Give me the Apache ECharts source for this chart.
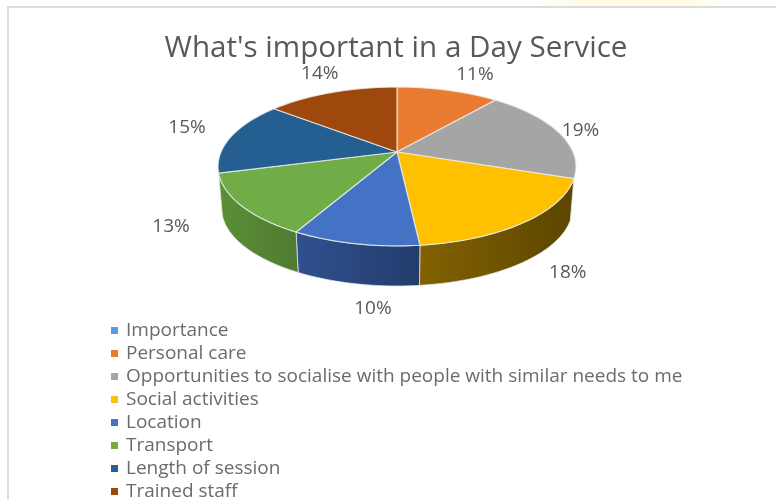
<!DOCTYPE html>
<html><head><meta charset="utf-8">
<style>html,body{margin:0;padding:0;background:#fff}#c{width:776px;height:499px;filter:blur(0.4px)}</style>
<script src="https://cdn.jsdelivr.net/npm/echarts@6/dist/echarts.min.js"></script>
</head><body><div id="c"></div>
<script>
const categories = ['Importance','Personal care','Opportunities to socialise with people with similar needs to me','Social activities','Location','Transport','Length of session','Trained staff'];
const values = [0,11,19.3,18,9.7,12.8,15,14.2];
const colors = ['#5b9bd5','#e97c30','#a5a5a5','#ffc000','#4472c4','#70ad47','#255e91','#9e480e'];
const wallLeft = ['#4a7fb0','#b55f22','#808080','#826200','#30518f','#5c8f38','#1c4a74','#7a380a'];
const wallRight = ['#3a668e','#8f4b1a','#666666','#5c4500','#233c6c','#4f7a2f','#163a5a','#5e2b08'];
const labelOffsets = [[0,0],[27,-16],[22,-2],[43,51],[18,65],[-70,21],[-44,-9],[-12,-19]];

// perspective projection of the pie's disc
const cx = 397, cy = 152, R = 176, H = 76.8, K = 0.182, depth = 42, lowerScale = 0.98;
const frontStart = 0.303, frontEnd = 0.707;
const total = values.reduce((a,b)=>a+b,0);
function rim(frac, dy, sc){
  const t = frac*2*Math.PI, u = Math.sin(t), v = Math.cos(t), s = 1/(1+K*v);
  return [cx + sc*R*u*s, cy + dy - sc*H*v*s];
}
function arc(a,b,dy,sc){
  const n = Math.max(2,Math.ceil((b-a)*240)), p=[];
  for(let i=0;i<=n;i++) p.push(rim(a+(b-a)*i/n,dy,sc));
  return p;
}
function renderSlice(params, api){
  const i = params.seriesIndex, val = api.value(0);
  if(!val) return {type:'group',children:[]};
  let before = 0; for(let k=0;k<i;k++) before += values[k];
  const a = before/total, b = (before+val)/total;
  const top = arc(a,b,0,1);
  const mid = rim((a+b)/2,0,1);
  const children = [];
  const wa = Math.max(a,frontStart), wb = Math.min(b,frontEnd);
  if(wb>wa){
    const t2 = arc(wa,wb,0,1), low = arc(wa,wb,depth,lowerScale);
    children.push({type:'polygon',z2:1,shape:{points:t2.concat(low.slice().reverse())},
      style:{fill:{type:'linear',x:0,y:0,x2:1,y2:0,colorStops:[{offset:0,color:wallLeft[i]},{offset:1,color:wallRight[i]}]},
             stroke:'rgba(225,232,240,0.75)',lineWidth:1}});
  }
  children.push({type:'polygon',z2:10,shape:{points:[[cx,cy]].concat(top)},
      style:{fill:colors[i],stroke:'rgba(235,238,235,0.8)',lineWidth:1.2}});
  children.push({type:'text',z2:20,x:mid[0]+labelOffsets[i][0],y:mid[1]+labelOffsets[i][1],
      style:{text:Math.round(val)+'%',fill:'#595959',font:'19px "Open Sans"',align:'center',verticalAlign:'middle'}});
  return {type:'group',children};
}
const chart = echarts.init(document.getElementById('c'));
chart.setOption({
  animation:false,
  backgroundColor:'#ffffff',
  title:{text:"What's important in a Day Service",left:391,top:29,textAlign:'center',
    textStyle:{color:'#595959',fontFamily:'"Open Sans"',fontSize:29.6,fontWeight:'normal'}},
  legend:{orient:'vertical',left:106,top:314,height:300,itemWidth:7,itemHeight:7,itemGap:0,icon:'rect',
    data:categories,selectedMode:false,
    textStyle:{color:'#6b6b6b',fontFamily:'"Open Sans"',fontSize:19,lineHeight:23,padding:[0,0,0,3]}},
  graphic:[
    {type:'rect',z:-1,shape:{x:530,y:0,width:190,height:6},style:{fill:{type:'linear',x:0,y:0,x2:1,y2:0,colorStops:[{offset:0,color:'#ffffff'},{offset:0.3,color:'#fffbe6'},{offset:0.8,color:'#fffbe0'},{offset:1,color:'#ffffff'}]}}},
    {type:'rect',z:-1,shape:{x:7,y:6,width:769,height:2},style:{fill:'#dcdcdc'}},
    {type:'rect',z:-1,shape:{x:7,y:6,width:2,height:493},style:{fill:'#dcdcdc'}}
  ],
  series:categories.map((name,i)=>({
    type:'custom',name,coordinateSystem:'none',silent:true,
    itemStyle:{color:colors[i]},
    renderItem:renderSlice,
    data:[[values[i]]]
  }))
});
</script></body></html>
